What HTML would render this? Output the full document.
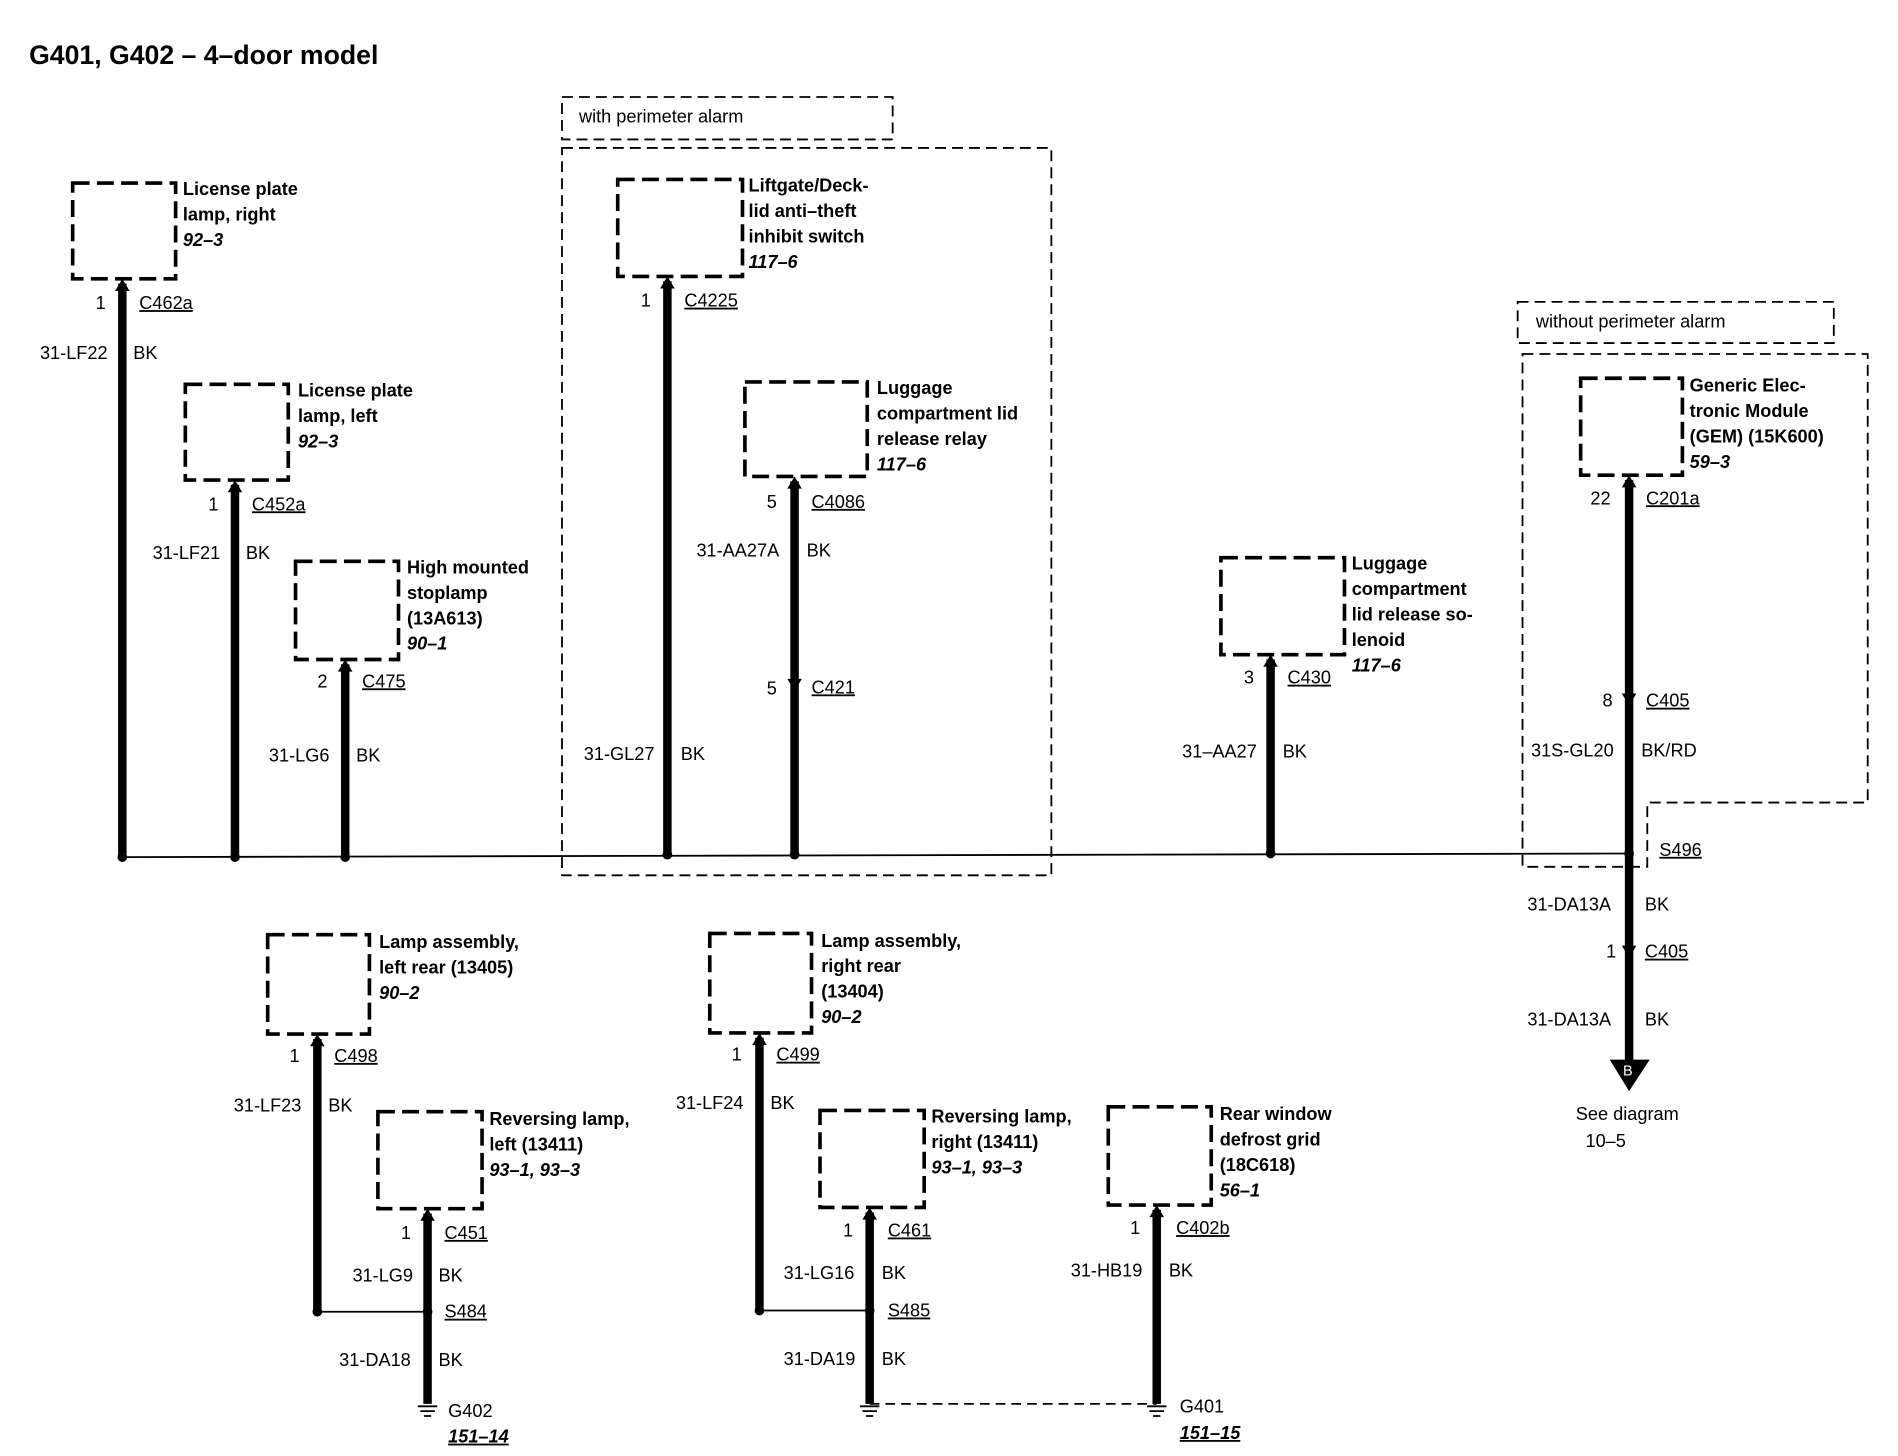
<!DOCTYPE html>
<html><head><meta charset="utf-8"><style>
html,body{margin:0;padding:0;background:#fff;}
svg{display:block;}
text{font-family:"Liberation Sans",sans-serif;font-size:15px;fill:#000;dominant-baseline:middle;}
.b{font-weight:bold;}
.i{font-style:italic;font-weight:bold;}
.box{fill:none;stroke:#000;stroke-width:3;stroke-dasharray:14,6;}
.reg{fill:none;stroke:#000;stroke-width:1.5;stroke-dasharray:9,5;}
.w{stroke:#000;stroke-width:7;}
.t{stroke:#000;stroke-width:1.5;fill:none;}
</style></head><body>
<svg width="1898" height="1456" viewBox="0 0 1567 1201" preserveAspectRatio="none" xmlns="http://www.w3.org/2000/svg">
<rect width="1600" height="1210" fill="#fff"/>
<text x="24" y="47" class="b" style="font-size:22px">G401, G402 – 4–door model</text>

<rect x="464" y="80" width="273" height="35" class="reg"/>
<text x="478" y="97">with perimeter alarm</text>
<rect x="464" y="122" width="404" height="600" class="reg"/>
<rect x="1253" y="249" width="261" height="34" class="reg"/>
<text x="1268" y="266">without perimeter alarm</text>
<path d="M1257 292 H1542 V662 H1360 V715 H1257 Z" class="reg"/>

<line x1="101" y1="707" x2="1345" y2="704" class="t"/>
<line x1="262" y1="1082" x2="353" y2="1082" class="t"/>
<line x1="627" y1="1081" x2="718" y2="1081" class="t"/>
<line x1="718" y1="1158" x2="955" y2="1158" class="t" stroke-dasharray="8,5"/>

<g class="w">
<line x1="101" y1="234" x2="101" y2="707"/>
<line x1="194" y1="400" x2="194" y2="707"/>
<line x1="285" y1="548" x2="285" y2="707"/>
<line x1="551" y1="232" x2="551" y2="705"/>
<line x1="656" y1="397" x2="656" y2="705"/>
<line x1="1049" y1="544" x2="1049" y2="704"/>
<line x1="1345" y1="396" x2="1345" y2="878"/>
<line x1="262" y1="857" x2="262" y2="1082"/>
<line x1="353" y1="1001" x2="353" y2="1158"/>
<line x1="627" y1="856" x2="627" y2="1081"/>
<line x1="718" y1="1000" x2="718" y2="1158"/>
<line x1="955" y1="998" x2="955" y2="1158"/>
</g>
<g fill="#000">
<polygon points="95,240 107,240 101,230"/>
<polygon points="188,406 200,406 194,396"/>
<polygon points="279,554 291,554 285,544"/>
<polygon points="545,238 557,238 551,228"/>
<polygon points="650,403 662,403 656,393"/>
<polygon points="650,560 662,560 656,570"/>
<polygon points="1043,550 1055,550 1049,540"/>
<polygon points="1339,402 1351,402 1345,392"/>
<polygon points="1339,572 1351,572 1345,582"/>
<polygon points="1339,780 1351,780 1345,790"/>
<polygon points="256,863 268,863 262,853"/>
<polygon points="347,1007 359,1007 353,997"/>
<polygon points="621,862 633,862 627,852"/>
<polygon points="712,1006 724,1006 718,996"/>
<polygon points="949,1004 961,1004 955,994"/>
<polygon points="1329,874 1362,874 1345,900"/>
<circle cx="101" cy="707" r="4"/><circle cx="194" cy="707" r="4"/><circle cx="285" cy="707" r="4"/>
<circle cx="551" cy="705" r="4"/><circle cx="656" cy="705" r="4"/><circle cx="1049" cy="704" r="4"/>
<circle cx="1345" cy="704" r="4"/><circle cx="262" cy="1082" r="4"/><circle cx="353" cy="1082" r="4"/>
<circle cx="627" cy="1081" r="4"/><circle cx="718" cy="1081" r="4"/>
</g>
<text x="1340" y="884" style="fill:#fff;font-size:12px">B</text>
<g class="t" stroke-width="2">
<path d="M345 1160h16M347 1164h12M350 1168h6"/>
<path d="M710 1160h16M712 1164h12M715 1168h6"/>
<path d="M947 1160h16M949 1164h12M952 1168h6"/>
</g>

<rect x="60" y="151" width="85" height="79" class="box"/>
<rect x="153" y="317" width="85" height="79" class="box"/>
<rect x="244" y="463" width="85" height="81" class="box"/>
<rect x="510" y="148" width="103" height="80" class="box"/>
<rect x="615" y="315" width="101" height="78" class="box"/>
<rect x="1008" y="460" width="102" height="80" class="box"/>
<rect x="1305" y="312" width="84" height="80" class="box"/>
<rect x="221" y="771" width="84" height="82" class="box"/>
<rect x="312" y="917" width="86" height="80" class="box"/>
<rect x="586" y="770" width="84" height="82" class="box"/>
<rect x="677" y="916" width="86" height="80" class="box"/>
<rect x="915" y="913" width="85" height="81" class="box"/>

<g class="b">
<text x="151" y="157">License plate</text><text x="151" y="178">lamp, right</text>
<text x="246" y="323">License plate</text><text x="246" y="344">lamp, left</text>
<text x="336" y="469">High mounted</text><text x="336" y="490">stoplamp</text><text x="336" y="511">(13A613)</text>
<text x="618" y="154">Liftgate/Deck-</text><text x="618" y="175">lid anti–theft</text><text x="618" y="196">inhibit switch</text>
<text x="724" y="321">Luggage</text><text x="724" y="342">compartment lid</text><text x="724" y="363">release relay</text>
<text x="1116" y="466">Luggage</text><text x="1116" y="487">compartment</text><text x="1116" y="508">lid release so-</text><text x="1116" y="529">lenoid</text>
<text x="1395" y="319">Generic Elec-</text><text x="1395" y="340">tronic Module</text><text x="1395" y="361">(GEM) (15K600)</text>
<text x="313" y="778">Lamp assembly,</text><text x="313" y="799">left rear (13405)</text>
<text x="404" y="924">Reversing lamp,</text><text x="404" y="945">left (13411)</text>
<text x="678" y="777">Lamp assembly,</text><text x="678" y="798">right rear</text><text x="678" y="819">(13404)</text>
<text x="769" y="922">Reversing lamp,</text><text x="769" y="943">right (13411)</text>
<text x="1007" y="920">Rear window</text><text x="1007" y="941">defrost grid</text><text x="1007" y="962">(18C618)</text>
</g>
<g class="i">
<text x="151" y="199">92–3</text><text x="246" y="365">92–3</text><text x="336" y="532">90–1</text>
<text x="618" y="217">117–6</text><text x="724" y="384">117–6</text><text x="1116" y="550">117–6</text>
<text x="1395" y="382">59–3</text><text x="313" y="820">90–2</text><text x="404" y="966">93–1, 93–3</text>
<text x="678" y="840">90–2</text><text x="769" y="964">93–1, 93–3</text><text x="1007" y="983">56–1</text>
<text x="370" y="1186" text-decoration="underline">151–14</text><text x="974" y="1183" text-decoration="underline">151–15</text>
</g>

<g>
<text x="79" y="251">1</text><text x="115" y="251" text-decoration="underline">C462a</text>
<text x="33" y="292">31-LF22</text><text x="110" y="292">BK</text>
<text x="172" y="417">1</text><text x="208" y="417" text-decoration="underline">C452a</text>
<text x="126" y="457">31-LF21</text><text x="203" y="457">BK</text>
<text x="262" y="563">2</text><text x="299" y="563" text-decoration="underline">C475</text>
<text x="222" y="624">31-LG6</text><text x="294" y="624">BK</text>
<text x="529" y="249">1</text><text x="565" y="249" text-decoration="underline">C4225</text>
<text x="482" y="623">31-GL27</text><text x="562" y="623">BK</text>
<text x="633" y="415">5</text><text x="670" y="415" text-decoration="underline">C4086</text>
<text x="575" y="455">31-AA27A</text><text x="666" y="455">BK</text>
<text x="633" y="569">5</text><text x="670" y="568" text-decoration="underline">C421</text>
<text x="1027" y="560">3</text><text x="1063" y="560" text-decoration="underline">C430</text>
<text x="976" y="621">31–AA27</text><text x="1059" y="621">BK</text>
<text x="1313" y="412">22</text><text x="1359" y="412" text-decoration="underline">C201a</text>
<text x="1323" y="579">8</text><text x="1359" y="579" text-decoration="underline">C405</text>
<text x="1264" y="620">31S-GL20</text><text x="1355" y="620">BK/RD</text>
<text x="1370" y="702" text-decoration="underline">S496</text>
<text x="1261" y="747">31-DA13A</text><text x="1358" y="747">BK</text>
<text x="1326" y="786">1</text><text x="1358" y="786" text-decoration="underline">C405</text>
<text x="1261" y="842">31-DA13A</text><text x="1358" y="842">BK</text>
<text x="1301" y="920">See diagram</text><text x="1309" y="942">10–5</text>
<text x="239" y="872">1</text><text x="276" y="872" text-decoration="underline">C498</text>
<text x="193" y="913">31-LF23</text><text x="271" y="913">BK</text>
<text x="331" y="1018">1</text><text x="367" y="1018" text-decoration="underline">C451</text>
<text x="291" y="1053">31-LG9</text><text x="362" y="1053">BK</text>
<text x="367" y="1083" text-decoration="underline">S484</text>
<text x="280" y="1123">31-DA18</text><text x="362" y="1123">BK</text>
<text x="370" y="1165">G402</text>
<text x="604" y="871">1</text><text x="641" y="871" text-decoration="underline">C499</text>
<text x="558" y="911">31-LF24</text><text x="636" y="911">BK</text>
<text x="696" y="1016">1</text><text x="733" y="1016" text-decoration="underline">C461</text>
<text x="647" y="1051">31-LG16</text><text x="728" y="1051">BK</text>
<text x="733" y="1082" text-decoration="underline">S485</text>
<text x="647" y="1122">31-DA19</text><text x="728" y="1122">BK</text>
<text x="933" y="1014">1</text><text x="971" y="1014" text-decoration="underline">C402b</text>
<text x="884" y="1049">31-HB19</text><text x="965" y="1049">BK</text>
<text x="974" y="1161">G401</text>
</g>
</svg>
</body></html>
